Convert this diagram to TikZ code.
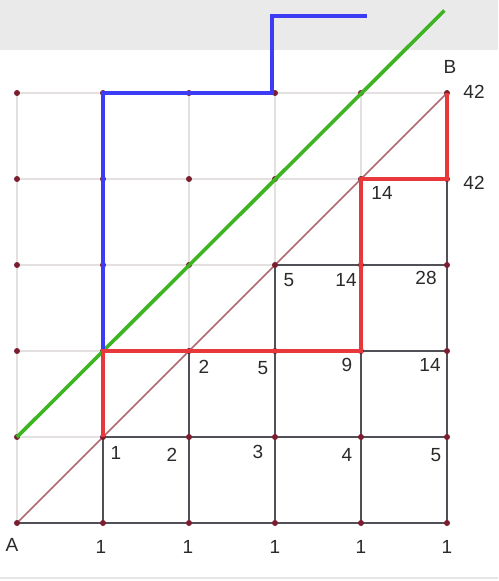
\documentclass[tikz,border=0pt]{standalone}
\usepackage{fontspec}
\setmainfont{Liberation Sans}
\definecolor{redpath}{HTML}{E8383C}
\definecolor{bluepath}{HTML}{3C3CF5}
\definecolor{greenline}{HTML}{3DB523}
\definecolor{diagcol}{HTML}{B06A72}
\definecolor{dotcol}{HTML}{7A1E30}
\definecolor{darkgrid}{HTML}{505056}
\definecolor{lightgrid}{HTML}{E4E0E0}
\definecolor{txtcol}{HTML}{2A2A2A}
\definecolor{bandcol}{HTML}{EAEAEA}
\begin{document}
\begin{tikzpicture}[x=1pt,y=-1pt,
  lightline/.style={draw=lightgrid,line width=1.5pt},
  darkline/.style={draw=darkgrid,line width=2.6pt},
  diagline/.style={draw=diagcol,line width=1.6pt},
  greenpath/.style={draw=greenline,line width=3.6pt},
  bluestep/.style={draw=bluepath,line width=4pt},
  redstep/.style={draw=redpath,line width=4pt},
  gdot/.style={fill=dotcol,circle,inner sep=0pt,minimum size=6pt},
  lbl/.style={text=txtcol,font=\fontsize{19}{19}\selectfont,inner sep=0pt}]
\useasboundingbox (0,0) rectangle (498,581);
\fill[white] (0,0) rectangle (498,581);
\fill[bandcol] (0,0) rectangle (498,50);
\draw[gray!20,line width=1.5pt] (0,578) -- (498,578);
\begin{scope}[shift={(17,523)},x=86pt,y=86pt]
  \foreach \i in {0,...,5}{\foreach \j in {0,...,5}{\coordinate (p\i\j) at (\i,\j);}}
  % light full grid
  \foreach \k in {0,...,5}{
    \draw[lightline] (p0\k) -- (p5\k);
    \draw[lightline] (p\k0) -- (p\k5);}
  % dark lower grid
  \draw[darkline] (p00) -- (p50);
  \draw[darkline] (p11) -- (p51);
  \draw[darkline] (p22) -- (p52);
  \draw[darkline] (p33) -- (p53);
  \draw[darkline] (p44) -- (p54);
  \draw[darkline] (p10) -- (p11);
  \draw[darkline] (p20) -- (p22);
  \draw[darkline] (p30) -- (p33);
  \draw[darkline] (p40) -- (p44);
  \draw[darkline] (p50) -- (p55);
  % diagonal
  \draw[diagline] (p00) -- (p55);
  % dots
  \foreach \i in {0,...,5}{\foreach \j in {0,...,5}{\node[gdot] (d\i\j) at (p\i\j) {};}}
  % green line
  \coordinate (gend) at (4.97,5.96);
  \draw[greenpath] (p01) -- (gend);
  % blue path
  \coordinate (bt1) at (2.97,5.895);
  \coordinate (bt2) at (4.07,5.895);
  \draw[bluestep] (p12) -- (p15) -- (2.97,5) -- (bt1) -- (bt2);
  % red path
  \draw[redstep,line join=miter] (p11) -- (p12) -- (p42) -- (p44) -- (p54) -- (p55);
\end{scope}
% labels
\node[lbl] (lA) at (12,545) {A};
\node[lbl] (lB) at (450,67) {B};
\node[lbl] (b1) at (101,547) {1};
\node[lbl] (b2) at (188,547) {1};
\node[lbl] (b3) at (275,547) {1};
\node[lbl] (b4) at (361,547) {1};
\node[lbl] (b5) at (447,547) {1};
\node[lbl] (r11) at (116,453) {1};
\node[lbl] (r12) at (172,455) {2};
\node[lbl] (r13) at (258,452) {3};
\node[lbl] (r14) at (347,455) {4};
\node[lbl] (r15) at (436,455) {5};
\node[lbl] (r22) at (204,367) {2};
\node[lbl] (r23) at (263,368) {5};
\node[lbl] (r24) at (347,365) {9};
\node[lbl] (r25) at (430,365) {14};
\node[lbl] (r33) at (289,280) {5};
\node[lbl] (r34) at (346,280) {14};
\node[lbl] (r35) at (426,278) {28};
\node[lbl] (r44) at (382,193) {14};
\node[lbl] (r45) at (474,183) {42};
\node[lbl] (r55) at (474,92) {42};
\end{tikzpicture}
\end{document}
